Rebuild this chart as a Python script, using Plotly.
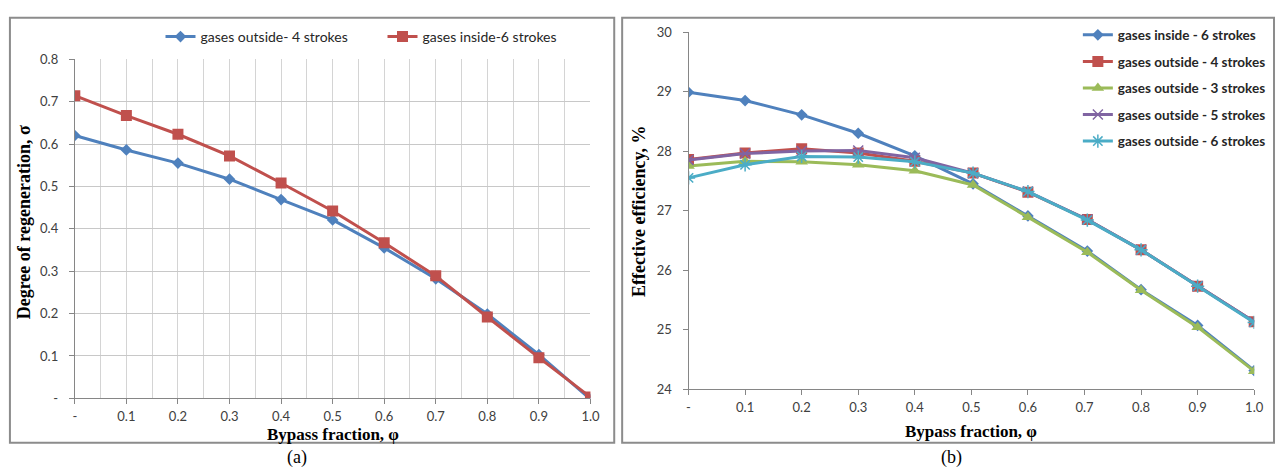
import plotly.graph_objects as go

# ---------------- data ----------------
bypass = [0.0, 0.1, 0.2, 0.3, 0.4, 0.5, 0.6, 0.7, 0.8, 0.9, 1.0]
sigma_outside_4 = [0.620, 0.586, 0.555, 0.517, 0.469, 0.421, 0.355, 0.282, 0.199, 0.103, -0.002]
sigma_inside_6 = [0.714, 0.667, 0.623, 0.572, 0.508, 0.442, 0.367, 0.289, 0.192, 0.096, 0.003]

bypass_b = [0.0, 0.1, 0.2, 0.3, 0.4, 0.503, 0.6, 0.705, 0.8, 0.9, 1.0]
eff_inside_6 = [28.99, 28.85, 28.61, 28.30, 27.92, 27.45, 26.91, 26.32, 25.67, 25.07, 24.31]
eff_outside_4 = [27.86, 27.97, 28.04, 27.97, 27.83, 27.63, 27.31, 26.85, 26.34, 25.73, 25.13]
eff_outside_3 = [27.75, 27.83, 27.82, 27.77, 27.67, 27.43, 26.89, 26.30, 25.66, 25.04, 24.30]
eff_outside_5 = [27.85, 27.96, 28.00, 28.01, 27.89, 27.63, 27.32, 26.85, 26.34, 25.73, 25.13]
eff_outside_6 = [27.55, 27.77, 27.91, 27.90, 27.82, 27.63, 27.32, 26.84, 26.34, 25.73, 25.12]

x_tickvals = [0.0, 0.1, 0.2, 0.3, 0.4, 0.5, 0.6, 0.7, 0.8, 0.9, 1.0]
x_ticktext = ["-", "0.1", "0.2", "0.3", "0.4", "0.5", "0.6", "0.7", "0.8", "0.9", "1.0"]
ya_tickvals = [0.0, 0.1, 0.2, 0.3, 0.4, 0.5, 0.6, 0.7, 0.8]
ya_ticktext = ["-", "0.1", "0.2", "0.3", "0.4", "0.5", "0.6", "0.7", "0.8"]
yb_tickvals = [24, 25, 26, 27, 28, 29, 30]

# ---------------- styling ----------------
W, H = 1285, 475
BLUE, RED, GREEN, PURPLE, CYAN = "#4F81BD", "#C0504D", "#9BBB59", "#8064A2", "#4BACC6"
AXIS = "#868686"
GRID = "#D4D4D4"
SANS = "Lato, Carlito, Calibri, sans-serif"
TICKFONT = dict(family=SANS, size=13, color="#404040")
SERIF = "Liberation Serif, Times New Roman, serif"

def px(x):
    return x / W

def py(y):
    return 1 - y / H

fig = go.Figure()

# left panel
fig.add_trace(go.Scatter(x=bypass, y=sigma_outside_4, name="gases outside- 4 strokes",
                         mode="lines+markers", line=dict(color=BLUE, width=3),
                         marker=dict(symbol="diamond", size=9, color=BLUE),
                         xaxis="x", yaxis="y", legend="legend"))
fig.add_trace(go.Scatter(x=bypass, y=sigma_inside_6, name="gases inside-6 strokes",
                         mode="lines+markers", line=dict(color=RED, width=3),
                         marker=dict(symbol="square", size=11, color=RED),
                         xaxis="x", yaxis="y", legend="legend"))

# right panel
right_series = [
    ("gases inside - 6 strokes", eff_inside_6, BLUE, dict(symbol="diamond", size=9, color=BLUE)),
    ("gases outside - 4 strokes", eff_outside_4, RED, dict(symbol="square", size=11, color=RED)),
    ("gases outside - 3 strokes", eff_outside_3, GREEN, dict(symbol="triangle-up", size=11, color=GREEN)),
    ("gases outside - 5 strokes", eff_outside_5, PURPLE,
     dict(symbol="x-thin-open", size=10, color=PURPLE, line=dict(color=PURPLE, width=1.5))),
    ("gases outside - 6 strokes", eff_outside_6, CYAN,
     dict(symbol="asterisk-open", size=11, color=CYAN, line=dict(color=CYAN, width=1.5))),
]
for i, (nm, vals, col, mk) in enumerate(right_series):
    fig.add_trace(go.Scatter(x=bypass_b, y=vals, name=nm, mode="lines+markers",
                             line=dict(color=col, width=3), marker=mk,
                             xaxis="x2", yaxis="y2", legend="legend2",
                             legendgroup="g%d" % i))

common_x = dict(range=[0, 1.0], tickvals=x_tickvals, ticktext=x_ticktext,
                tickfont=TICKFONT, showline=True, linecolor=AXIS, linewidth=1,
                ticks="outside", ticklen=5, tickcolor=AXIS, zeroline=False,
                ticklabelstandoff=1)

fig.update_layout(
    width=W, height=H,
    margin=dict(l=0, r=0, t=0, b=0),
    paper_bgcolor="white", plot_bgcolor="white",
    xaxis=dict(domain=[px(73.5), px(594)], anchor="y",
               showgrid=True, gridcolor=GRID, gridwidth=1,
               minor=dict(dtick=0.05, tick0=0, showgrid=True, gridcolor=GRID, gridwidth=1),
               **common_x),
    yaxis=dict(domain=[py(404), py(53)], anchor="x", range=[0, 0.8],
               tickvals=ya_tickvals, ticktext=ya_ticktext, tickfont=TICKFONT,
               showgrid=True, gridcolor="#C8C8C8", gridwidth=1,
               showline=True, linecolor=AXIS, ticks="outside", ticklen=5,
               tickcolor=AXIS, zeroline=False, ticklabelstandoff=8),
    xaxis2=dict(domain=[px(693), px(1264)], anchor="y2", showgrid=False, **common_x),
    yaxis2=dict(domain=[py(394.3), py(25)], anchor="x2", range=[24, 30],
                tickvals=yb_tickvals, tickfont=TICKFONT, showgrid=False,
                showline=True, linecolor=AXIS, ticks="outside", ticklen=5,
                tickcolor=AXIS, zeroline=False, ticklabelstandoff=8),
    legend=dict(orientation="h", x=px(160), xanchor="left", y=py(30), yanchor="middle",
                font=dict(family=SANS, size=14, color="#262626"),
                bgcolor="rgba(0,0,0,0)", entrywidth=177, entrywidthmode="pixels"),
    legend2=dict(orientation="v", x=px(1086), xanchor="left", y=py(12), yanchor="top",
                 font=dict(family=SANS, size=13.5, color="#262626", weight="bold"),
                 bgcolor="rgba(0,0,0,0)", tracegroupgap=6, traceorder="grouped"),
    showlegend=True,
)

# panel borders
for x0, x1 in [(8, 618), (626, 1284)]:
    fig.add_shape(type="rect", xref="paper", yref="paper",
                  x0=px(x0), x1=px(x1), y0=py(450), y1=py(10),
                  line=dict(color="#8C8C8C", width=2), layer="below")

ann = [
    dict(x=px(334), y=py(441), text="<b>Bypass fraction, φ</b>", textangle=0, size=17),
    dict(x=px(22), y=py(222), text="<b>Degree of regeneration, σ</b>", textangle=-90, size=18),
    dict(x=px(978), y=py(438), text="<b>Bypass fraction, φ</b>", textangle=0, size=17),
    dict(x=px(643), y=py(210), text="<b>Effective efficiency, %</b>", textangle=-90, size=18),
    dict(x=px(298), y=py(465), text="(a)", textangle=0, size=18),
    dict(x=px(958), y=py(465), text="(b)", textangle=0, size=18),
]
for a in ann:
    fig.add_annotation(xref="paper", yref="paper", x=a["x"], y=a["y"], text=a["text"],
                       textangle=a["textangle"], showarrow=False, xanchor="center",
                       yanchor="middle", font=dict(family=SERIF, size=a["size"], color="black"))

fig.write_html("out.html")
